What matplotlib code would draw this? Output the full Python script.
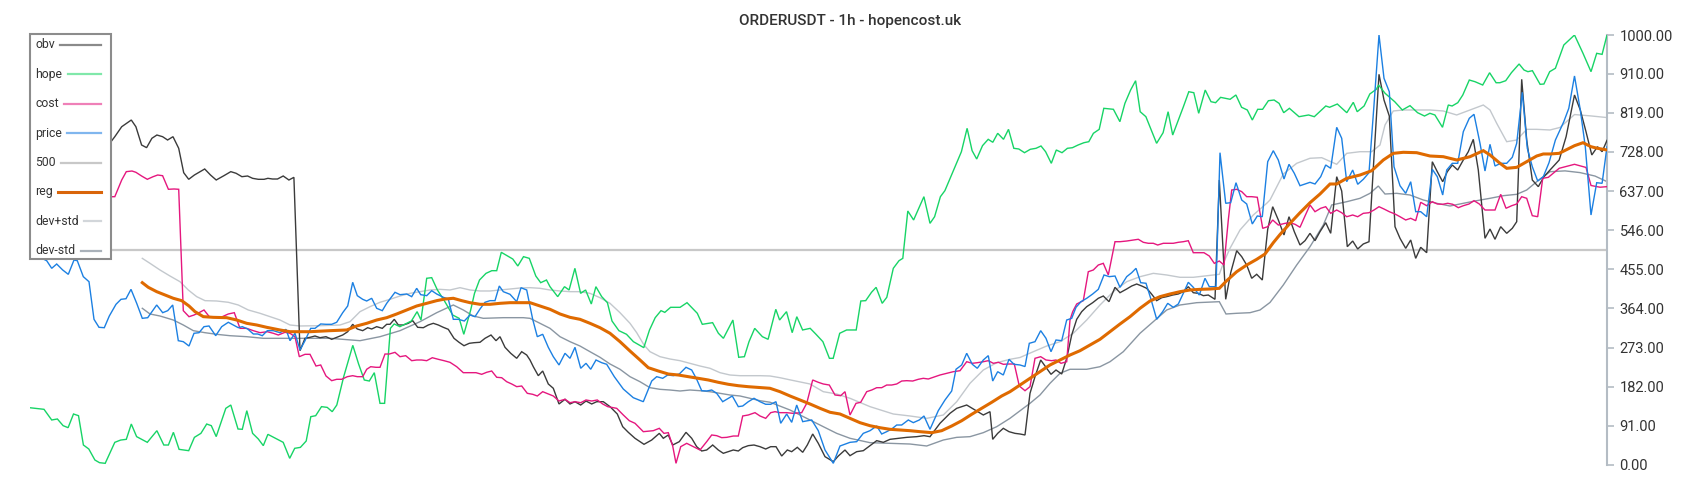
import matplotlib
matplotlib.use("Agg")
import matplotlib.pyplot as plt
from matplotlib.patches import Rectangle
from matplotlib.lines import Line2D

plt.rcParams['font.family'] = ['Roboto', 'DejaVu Sans']

TITLE = "ORDERUSDT - 1h - hopencost.uk"
Y_TICKS = [0, 91, 182, 273, 364, 455, 546, 637, 728, 819, 910, 1000]
LEVEL = 500
T_START, T_END = 30, 1607

# (time, value) pairs for every series
obv = [(30,745),(60,748),(90,750),(111,751.9),(114.8,763.5),(121.7,786.7),(131.3,802.3),(135.9,786.7),(141.6,744.2),(146.6,738),(151.9,759.8),(156.9,767.4),(162.6,763.5),(167.6,755.8),(173,763.5),(178.7,736.5),(183.7,679.8),(188.7,664.4),(194.4,674.4),(204.7,688.4),(210.5,674.4),(216.2,662.8),(223.9,672.8),(230.8,682.2),(236.1,678.4),(241.9,670.5),(247.6,672.1),(252.6,666.7),(258.3,664.4),(264.1,664.4),(267.9,666.7),(272.5,665.1),(277.5,665.1),(283.2,672.1),(288.9,662.8),(293.9,669),(300,265.8),(305,294.6),(310,296.9),(315,300),(320,296.1),(326,298.4),(331.7,292.3),(336.7,296.9),(342.7,302.3),(347.7,310),(352.7,327.2),(357.3,316.3),(362.7,312.4),(367.7,319.3),(371.7,316.3),(376.7,321.7),(382.3,317.8),(386.7,327.2),(390,327.2),(394.3,338.8),(398.3,325.6),(403.3,325.6),(408.3,329.5),(412.7,335.6),(417.7,320.2),(423.3,319.3),(428.3,325.6),(433.3,329.5),(438.3,325.6),(443.3,320.2),(448.3,315.5),(454,294.6),(459,285.4),(464,277.4),(469.3,283),(474,284.4),(480,285.4),(485,294.6),(491,302.3),(496,289.1),(500,298.4),(505,273.7),(510.7,259.8),(516.7,248.1),(521.7,263.5),(526.7,255.8),(530,244.2),(533.3,228.6),(538.3,207.7),(542.7,218.6),(548.3,188.4),(553.3,178.4),(559,141.9),(565,152.8),(570,141.9),(575,147.2),(580.7,139.5),(586,148.8),(591.7,141.9),(596.7,147.2),(603.3,147.2),(610,135.7),(617.3,118.6),(622.7,89.1),(628.3,76),(635,62.1),(644,48.1),(651.7,58.1),(659.3,73.6),(663.3,62.1),(668.3,69.8),(672.7,46.5),(679.3,54.3),(686,76),(691.7,62.1),(696.7,42.6),(701.7,32.6),(706.7,34.9),(712.7,46.5),(718.3,34.9),(723.3,27.2),(728.3,31),(733.3,34.9),(738.3,32.6),(742.7,40.3),(748.3,45),(754,46.5),(760,42.6),(765.7,37.2),(770.7,42.6),(776,42.6),(781.7,20.9),(787.3,34.9),(791.7,31),(797.3,41.1),(802.7,29.5),(807.3,46.5),(812.7,72.1),(818.3,50.4),(825,19.4),(833.3,7.8),(838.3,20.9),(845,34.9),(850,21.7),(856.7,31),(863.3,33.3),(870,45),(876.7,56.6),(883.3,52.7),(890,59.7),(898.3,62.1),(906.7,64.3),(916.7,65.9),(924,68.2),(930,65.9),(940,97),(950,120.2),(956.7,131.8),(966.7,139.5),(975,127.9),(983.3,116.3),(990,124),(992.7,59.7),(997.7,73.6),(1003.3,85.3),(1009,77.5),(1015,73.6),(1020,72.1),(1025,69.8),(1030,166.7),(1035,205.4),(1040.7,244.2),(1046,227.2),(1051,210.9),(1056,220.9),(1061.7,211.6),(1066.7,248.1),(1071.7,302.3),(1076.7,338.8),(1081.7,356.6),(1086.7,368.2),(1092.7,377.5),(1098.3,387.7),(1103.3,393),(1109,379.8),(1115,413.2),(1120,400.7),(1126.7,409.3),(1131.7,416.3),(1136.7,420.9),(1141.7,416.3),(1146.7,410.9),(1151,399.2),(1156.7,382.2),(1161.7,389.1),(1166.7,391.5),(1172.7,395.3),(1178.3,397.7),(1183.3,403.1),(1188.3,414.7),(1193.3,400.7),(1198.3,399.2),(1203.3,393.8),(1208.3,395.3),(1215,385.3),(1219.3,662.8),(1225.7,385.3),(1230.7,447.2),(1236.7,498.4),(1241.7,484.5),(1246.7,465.1),(1251.7,434.2),(1256.7,443.5),(1262.3,430.2),(1267.7,548.1),(1272.7,600.7),(1278.3,570),(1284,534.9),(1289,577.4),(1294.3,542.6),(1300,511.6),(1305,521.6),(1310,538.8),(1315,521.6),(1320,542.6),(1325.7,563.5),(1330.7,538.8),(1336.7,670.5),(1341.7,637.2),(1347.3,507.7),(1352.7,520.9),(1357.7,502.3),(1363.3,514),(1369,519.3),(1374,717),(1379,908.6),(1384,848.8),(1389.3,811.6),(1395,554.2),(1400,527.2),(1405.7,503.9),(1410.7,523.3),(1415.7,480.6),(1420.7,506.3),(1426.7,493.7),(1432.3,705.3),(1437.3,682.1),(1442.7,658.8),(1447.3,682.1),(1452.3,697.7),(1457.7,686),(1463.3,709.3),(1468.3,728.6),(1473.3,757.4),(1478.3,686),(1485,527.2),(1490,548.8),(1495,524.9),(1500.7,554.2),(1506.7,538.8),(1512.3,550.4),(1516.7,565.8),(1521.7,897),(1526.7,755.8),(1532.3,662.8),(1538.3,647.3),(1544,670.5),(1550,686),(1559.2,709.3),(1566.1,763.5),(1574.5,860.5),(1580.3,825.6),(1586,775.1),(1591.8,721),(1597.5,740.2),(1602.1,728.6),(1607,755)]

hope = [(30.6,133),(44,129.5),(51.7,104.7),(57.4,107),(63.1,91.5),(68.1,86.8),(73.5,118.6),(78.5,114.7),(83.4,46.5),(88.8,37.2),(94.9,11.6),(99.5,5.4),(105.2,3.9),(114.8,52.7),(120.6,58),(126.3,59.7),(131.3,95.3),(136.6,66),(147.3,52.7),(156.9,79.8),(163.8,46.5),(168.4,46.5),(173.4,76),(179.1,36.4),(188.7,33.3),(194.4,64.3),(200.9,73.6),(206.7,95.3),(211.3,91.5),(216.2,66),(225.8,131.8),(230.8,139.5),(238,83.7),(242.3,83),(246.8,126.4),(252.6,73.6),(258.3,60.5),(263.3,45),(267.9,71.3),(283.2,52.7),(289.7,15.5),(294.7,38.8),(300.4,41),(306.2,55.8),(310.8,112.4),(315.7,114.7),(321.5,135.7),(327.2,134),(332.2,124),(336.8,139.5),(343.7,205.4),(352.8,278.3),(358.6,234.9),(364.3,197.7),(369.3,195.3),(374.3,214.7),(380,143.4),(384.6,143.4),(390.4,317.8),(394.2,328),(399.9,321.7),(406.8,329.5),(411.4,334.9),(417.1,356.6),(421,337.2),(426.7,434.2),(431.7,435.7),(437.4,407),(443.9,383.7),(452.7,348.8),(459.2,341),(463.8,303.9),(470.7,360.5),(474.5,399.2),(479.5,430.2),(486,445.7),(491.8,451.9),(496.7,451.9),(501.3,494.6),(507.1,486.8),(512.8,479),(517.8,462.8),(523.5,484.5),(529.3,480.6),(535.8,439.5),(540.7,424),(546.5,430.2),(550,414.7),(557.7,391.5),(564.5,414.7),(569.1,407),(574.9,457.4),(580.6,399.2),(585.6,407),(591.3,374.4),(595.9,414.7),(601.7,391.5),(607.4,377.5),(612,334.9),(618.9,312.4),(626.5,304),(633.4,286.8),(643.8,272.9),(649.5,314),(655.2,342.6),(661,358.9),(664.8,355),(670.6,366.7),(680.1,366.7),(687,377.5),(697.3,352.8),(702.3,327.2),(712.6,331),(718.4,306.3),(723.4,294.6),(732.9,337.2),(738.7,250.5),(744.4,251.9),(749,286.8),(754.7,317.8),(762.4,298.4),(768.1,292.3),(775.8,362.1),(779.6,337.2),(786.5,356.6),(792.2,307.7),(796.8,344.9),(802.6,314),(810.2,317.8),(816,304),(822.9,286.8),(829.4,248.1),(833.2,248.1),(839.7,306.3),(846.6,314),(856.2,314),(860.8,381.4),(865.7,382.2),(871.5,401.6),(876.1,413.2),(882.2,376),(886.8,390),(893.3,457.4),(899,475.1),(902.8,480.6),(907.8,590.7),(913.6,569.8),(923.9,624),(930,562),(934.6,577.4),(940.4,624),(944.9,638),(961.4,728.6),(967.1,783),(972.1,731),(976.7,711.6),(982.5,742.6),(988.2,757.4),(992.8,750.5),(997.7,771.4),(1003.5,757.4),(1008.5,780.6),(1013.8,736.5),(1018.8,734.9),(1024.5,726.3),(1030.3,734.2),(1036,736.5),(1041,741.9),(1045.6,728.6),(1051.3,701.6),(1056.3,732.6),(1062,726.3),(1067.4,736.5),(1072.4,737.9),(1078.1,744.2),(1083.9,749.5),(1088.8,751.9),(1093.4,771.4),(1099.2,780.6),(1103.8,829.5),(1113.4,827.2),(1119.9,798.4),(1124.9,841),(1130.6,872),(1135.6,893.7),(1140.2,821.6),(1145.9,810),(1156.6,748.1),(1163.1,772.8),(1168.1,821.6),(1172.7,767.4),(1183.4,833.3),(1188.8,868.1),(1193.8,865.8),(1198.7,817.9),(1205.2,872),(1211,844.9),(1215.6,842.6),(1220.6,855),(1230.1,850.5),(1235.9,860.5),(1241.6,831.9),(1247.3,825.6),(1252.3,802.3),(1257.7,827.2),(1262.6,827.2),(1268.4,847.2),(1274.1,848.8),(1279.1,841),(1283.7,819.3),(1289.4,829.5),(1299,810),(1308.6,814),(1314.3,810),(1325.8,834.9),(1329.6,831.9),(1337.3,839.5),(1346.8,819.3),(1353.3,843.4),(1357.2,821.6),(1364.1,834.9),(1369.8,862.8),(1376.3,873.7),(1378.6,883.7),(1385.1,864.4),(1394.7,844.9),(1402.3,825.6),(1410,835.7),(1417.6,819.3),(1424.5,811.6),(1429.9,817.9),(1434.9,814),(1442.5,785.3),(1448.3,837.2),(1452.1,834.9),(1457.8,842.6),(1462.8,860.5),(1469.3,895.3),(1475,891.4),(1482.7,883.7),(1489.6,912.3),(1496.1,889),(1499.9,889),(1505.7,893.7),(1511.4,912.3),(1519.1,932.6),(1524,918.6),(1527.9,914.7),(1532.4,917),(1540.1,885.3),(1543.9,886),(1549.7,914.7),(1555.4,922.6),(1563.8,976.7),(1574.5,1000),(1583,957.4),(1591,914.7),(1596.7,957.4),(1602.1,955),(1607,1000)]

cost = [(30,620),(111,624),(114.8,624),(121.7,662.8),(126.3,682.2),(132,683.7),(135.9,680.7),(141.6,672.1),(147.3,664.4),(153.1,670.5),(157.7,674.4),(162.6,672.8),(168.4,641.2),(174.1,641.9),(178.7,641.2),(183.3,358.9),(189,344.9),(194,348.8),(199,354.2),(204,360.5),(209.3,344.9),(216.7,343.4),(222.3,344.9),(228.3,351.2),(234.3,354.2),(240,317.8),(246.7,317.8),(253.3,312.4),(260,307.7),(267.3,310),(273.3,306.3),(278.3,302.3),(285,308.6),(290,306.3),(295,298.4),(299.3,251.9),(305,257.4),(310,257.4),(316,230.2),(320.7,232.6),(326,207),(331.7,196.1),(336.7,199.3),(341.7,199.3),(347.3,205.4),(352.7,207.7),(357.3,205.4),(362.7,205.4),(366.7,222.6),(370.7,228.6),(376,227.2),(380,227.2),(385,258.1),(389.3,258.1),(395,262),(400,251.9),(405.7,254.2),(411.7,242.6),(416.7,244.2),(421.7,244.2),(426.7,242.6),(432.3,249.5),(438.3,245.8),(444,242.6),(450,238.8),(456.7,228.6),(463.3,214.7),(470,214.7),(476,214.7),(481.7,210.9),(486.7,215.6),(491.7,218.6),(496.7,204),(501.7,203),(506.7,193.7),(511.7,188.4),(516.7,182.2),(521.7,183.7),(527.3,166.7),(532.7,164.4),(537.3,160.5),(542.7,170.5),(548.3,165.1),(553.3,160.5),(559,148.8),(565,152.8),(570,144.9),(575,147.2),(580.7,144.9),(586,151.2),(591.7,148.8),(597.3,151.2),(602.7,141.9),(607.7,135.7),(616.7,131.8),(623.3,116.3),(629.3,103),(635,97),(643.3,77.5),(653.3,79.8),(659.3,85.3),(664,73.6),(668.3,75.2),(672.7,44.2),(676,3.9),(680.7,42.6),(686.7,50.4),(693.3,42.6),(700,34.9),(706.7,54.3),(711.7,69.8),(716.7,68.2),(721.7,63.6),(726.7,64.3),(733.3,67.4),(738.3,67.4),(742.7,114),(748.3,116.3),(755,121.7),(760,114),(765.7,108.5),(770.7,121.7),(775,124),(780,121.7),(786.7,121.7),(792.7,120.2),(801.7,121.7),(806.7,143.4),(812.7,197.7),(818.3,192.3),(823.3,188.4),(829.3,186),(835,162.8),(840.7,161.2),(845,170.5),(850,116.3),(856,143.4),(860.7,145.8),(866.7,170.5),(871.7,174.4),(876.7,179.8),(881.7,179.8),(886.7,186),(891.7,186),(896.7,188.4),(901.7,195.3),(906.7,196.1),(912.7,195.3),(918.3,199.3),(923.3,201.6),(928.3,200),(933.3,204),(940,209.3),(946.7,213.2),(953.3,217),(960,219.3),(966.7,240.2),(972.3,236.5),(977.3,237.9),(983.3,240.2),(988.3,242.6),(993.3,236.5),(998.3,238.8),(1003.3,234.2),(1009,234.9),(1014.3,234.9),(1019.3,183.7),(1025,172.8),(1030,182.2),(1035,248.1),(1040.7,251.9),(1046,244.2),(1051.7,242.6),(1056,244.2),(1061,236.5),(1066.7,240.2),(1070,337.2),(1072.7,356.6),(1076.7,374.4),(1083.3,382.2),(1088.3,449.5),(1093.3,453.5),(1098.3,465.1),(1103.3,469),(1108.3,441.9),(1115,519.3),(1120,519.3),(1126.7,520.9),(1133.3,523.3),(1138.3,524.9),(1143.3,517.9),(1148.3,515.6),(1153.3,515.6),(1157.7,511.6),(1163.3,515.6),(1168.3,515.6),(1173.3,515.6),(1178.3,517.9),(1183.3,519.3),(1188.3,521.6),(1193.3,493.7),(1198.3,493.7),(1204,493.7),(1209.3,486),(1214.3,469),(1219.3,474.4),(1224,465.1),(1228.3,569.8),(1231.7,639.5),(1236.7,641.2),(1241.7,635.7),(1246.7,624),(1251.7,624),(1257.3,622.6),(1262.7,550.4),(1267.7,554.2),(1272.7,569.8),(1278.3,558.1),(1285,562),(1290,563.5),(1295,559.8),(1300,552.8),(1305,579.1),(1310,604.7),(1315,589.1),(1320.7,597),(1325.7,600.7),(1330.7,585.3),(1336.7,593),(1341.7,586.7),(1346.7,577.4),(1352.7,581.4),(1357.7,577.4),(1363.3,585.3),(1369,586.7),(1374,593),(1379,600.7),(1384,595.3),(1389.3,589.1),(1395,583.7),(1400,577.4),(1405.7,569.8),(1410.7,573.7),(1415.7,568.2),(1420.7,610.9),(1426.7,603),(1432.3,612.3),(1437.3,607),(1442.7,606.3),(1447.7,608.6),(1452.7,606.3),(1458.3,598.4),(1463.3,603),(1469,607),(1474,614.7),(1479.3,607),(1485,593),(1490.7,593),(1495,593),(1500.7,629.5),(1506,597),(1511.7,603),(1516.7,607),(1521.7,624),(1526.7,620.2),(1532.3,579.8),(1537.7,577.4),(1542.7,666.7),(1548.3,669),(1559.2,690),(1574.5,699.3),(1586,692),(1591,650),(1600,646),(1607,647.3)]

price = [(30,495),(38,485),(46.7,475.1),(51.7,457.4),(56.7,467.4),(62.7,453.5),(68.3,443.4),(74,476.7),(77.3,475.1),(83.3,438),(89,426.3),(94,338.8),(99,320.2),(104.3,319.3),(109.3,346.5),(116,373.7),(121,385.3),(126,386.7),(131,408.5),(136.7,376),(142.3,341.1),(147.7,342.6),(156.7,372.1),(162.7,354.2),(167.7,358.9),(172.7,372.1),(178.3,289.1),(183.3,286.8),(189,276.7),(194,306.3),(199,307.7),(204,321.7),(209,323.3),(215.7,300.7),(221.7,321.7),(228.3,331.9),(233.3,325.6),(238.3,319.3),(242.3,321.7),(247.7,316.3),(253.3,304.7),(257.7,304.7),(262.3,300.7),(267.3,312.4),(273.3,312.4),(280,307.7),(286,315.5),(290,289.1),(295,306.3),(300,267.4),(305,289.1),(310.7,317.8),(315,317.8),(320.7,328),(326,327.2),(331.7,327.2),(336.7,331.9),(342.7,354.2),(347.7,369.8),(352.7,424.9),(357.3,393.8),(362.7,385.3),(366.7,381.4),(371.7,387.7),(376.7,364.4),(382.3,358.9),(386.7,376),(395,401.6),(400,396.1),(406.7,397.7),(411.7,391.5),(416.7,410.9),(420.7,396.1),(426.7,393.8),(431.7,405.4),(436.7,397.7),(443.3,390),(448.3,386),(453.3,338.8),(458.3,338.8),(464.3,334.9),(470,348.8),(475,344.9),(480,362.8),(485,378.4),(490,382.2),(495,382.2),(499.3,416.3),(503.3,403.1),(510,397),(516.7,379.8),(521,412.3),(526.7,407),(532.7,338.8),(537.3,298.4),(542.7,304),(548.3,273.7),(553.3,251.9),(559,232.6),(565,259.8),(570,248.1),(575,273.7),(580.7,224.9),(586,236.5),(590.7,222.6),(596,244.2),(601.7,237.9),(606.7,234.2),(614.3,205.4),(623.3,176.7),(633.3,156.5),(643.3,147.2),(651.7,195.3),(656.7,205.4),(662.7,201.6),(667.7,209.3),(673.3,207.7),(679.3,211.6),(686,227.2),(691.7,220.9),(696.7,199.3),(701.7,172.8),(706.7,172.1),(711.7,174.4),(716.7,166.7),(722.7,147.2),(727.3,153.5),(732.3,160.5),(738.3,135.7),(742.7,137.2),(748.3,147.2),(754,155.1),(760,147.2),(765.7,141.2),(770.7,141.2),(776,147.2),(780.7,97),(786.7,118.6),(791.7,99.2),(796.7,139.5),(802.7,100.8),(811.7,104.7),(818.3,79.8),(825,34.9),(833.3,3.9),(840,44.2),(850,52.7),(856.7,54.3),(863.3,73.6),(870,79.8),(876.7,90.7),(881.7,72.1),(886.7,77.5),(891.7,83.7),(896.7,93),(901.7,93),(908.3,104.7),(913.3,98.5),(919.3,104.7),(924,114),(930,83),(938.3,126.4),(945,151.2),(951.7,172.1),(956,222.6),(961.7,232.6),(966.7,259.8),(972.3,234.2),(977.3,224.9),(983.3,244.2),(988.3,254.3),(992.7,195.3),(997.7,217),(1003.3,209.3),(1009,245.8),(1014,234.2),(1020,232.6),(1025,229),(1029.3,283),(1035,286.8),(1040.7,312.4),(1046,294.6),(1051,263.5),(1056,290.7),(1061.7,289.1),(1066.7,337.2),(1071.7,341.1),(1076,366.7),(1081,379.8),(1086.7,387.7),(1092.7,397.7),(1098.3,408.5),(1104,441.9),(1109.3,438),(1115,439.5),(1120,413.2),(1126.7,438),(1131.7,447.2),(1136,457.4),(1140.7,424),(1146,422.6),(1151,385.3),(1156.7,338.8),(1162.7,356.6),(1167.7,376),(1173.3,366.7),(1178.3,374.4),(1183.3,399.2),(1188.3,424.9),(1193.3,413.2),(1199.3,395.3),(1205,434.2),(1209.3,414.7),(1216,414.7),(1220,726.3),(1225.7,608.6),(1230.7,610.1),(1236,656.5),(1241.7,616.3),(1246.7,607),(1252.3,560.5),(1257.3,579.1),(1262.3,577.4),(1267.7,705.3),(1273.3,731),(1278.3,709.3),(1284,665.1),(1289,699.3),(1294.3,678.4),(1300,649.5),(1305,653.5),(1310,657.4),(1315,653.5),(1320.7,670.5),(1325.7,697.7),(1330.7,690),(1336.7,785.3),(1341.7,759.8),(1346.7,658.8),(1352.7,686),(1357.7,652.8),(1363.3,664.4),(1369,679.8),(1374,837.2),(1379,1000),(1384,899.3),(1389.3,868.1),(1394,693.7),(1400,649.5),(1405.7,631.8),(1410.7,658.8),(1415.7,589.1),(1420.7,589.1),(1426.7,577.4),(1432.3,687.7),(1437.3,670.5),(1442.7,627.9),(1446.7,686),(1452.3,701.6),(1457.7,701.6),(1463.3,775.1),(1469.3,806.3),(1474,815.6),(1480,748.1),(1485,683.7),(1490,745.8),(1495,695.3),(1500.7,701.6),(1506.7,701.6),(1512.3,715.6),(1516.7,748.1),(1522.3,866.7),(1527.3,736.5),(1532.3,693.7),(1537.7,660.5),(1543.3,670.5),(1549,703),(1555.4,755.8),(1563.8,798.4),(1568.8,829.5),(1574.5,904.7),(1580.3,825.6),(1585.3,740.2),(1591,581.4),(1596.7,656.5),(1602.1,655.1),(1607,740.2)]

reg = [(142.3,424),(148.3,413.2),(156.7,403.1),(166.7,393.8),(173.3,387.7),(181.7,382.2),(189,369.8),(195,356.6),(203.3,345),(213.3,343.4),(226.7,342.6),(236.7,337.2),(246.7,329.5),(256.7,325.6),(266.7,320.2),(280,314),(290,310),(310,310),(330,312.4),(346.7,314),(356.7,323.3),(366.7,329.5),(376.7,337.2),(386.7,342.6),(396.7,351.2),(406.7,360.5),(416.7,369.8),(426.7,376),(436.7,382.2),(445,386),(453.3,387.7),(461.7,382.2),(470,377.5),(480,373.7),(490,373.7),(500,376),(510,377.5),(520,377.5),(530,377.5),(540,369.8),(550,362.1),(560,351.2),(570,343.4),(580,338.8),(590,329.5),(600,319.3),(610,306.3),(620,286.8),(630,265.1),(640,244.2),(648.3,226.3),(658.3,218.6),(668.3,211.6),(678.3,209.3),(688.3,205.4),(698.3,201.6),(708.3,197.7),(718.3,192.3),(728.3,187.7),(738.3,184.4),(748.3,182.1),(758.3,180.5),(770,178.4),(780,170.5),(790,160.5),(800,151.2),(810,141.9),(820,131.8),(830,122.6),(840,118.6),(850,108.6),(860,98.4),(870,91.4),(880,86.7),(890,83),(900,81.4),(910,79.8),(920,77.5),(931.7,75.2),(941.7,79.8),(951.7,90.7),(961.7,103),(971.7,117.9),(981.7,131.8),(991.7,145.8),(1001.7,160.5),(1010,170.5),(1020,186),(1030,201.6),(1040,217),(1050,232.6),(1060,244.2),(1070,255.8),(1080,265.8),(1090,279.1),(1100,292.3),(1110,310),(1120,327.9),(1130,344.9),(1140,364.4),(1150,381.4),(1160,391.5),(1170,397.7),(1180,403.1),(1190,407),(1200,408.5),(1210,409.3),(1219.3,410.9),(1226.7,428.6),(1236.7,449.5),(1246.7,465.1),(1256.7,478.3),(1265,490.7),(1273.3,517),(1280,536),(1290,562),(1300,586.7),(1310,610),(1320,630.2),(1330,653.5),(1336.7,653.5),(1346.7,666.7),(1360,674.4),(1371.7,684.4),(1383.3,709.3),(1393.3,724.8),(1403.3,727.2),(1416.7,726.3),(1430,718.6),(1443.3,717),(1456.7,709.3),(1470,717),(1483.3,731),(1490,721),(1500,701.6),(1506.7,690),(1516.7,692.2),(1526.7,705.3),(1536.7,718.6),(1543.3,723.3),(1550,723.3),(1559.2,724.8),(1574.5,742.6),(1583,749.5),(1591,740.2),(1597.5,736.5),(1607,732.6)]

dev_plus = [(142.3,480.6),(150,469),(160,453.5),(170,439.5),(180,426.3),(188.3,407),(196.7,391.5),(205,382.2),(216.7,381.4),(228.3,378.4),(238.3,372.1),(248.3,360.5),(260,352.8),(270,344.9),(280,337.2),(290,325.6),(300,323.3),(320,324),(340,325.6),(350,333.3),(360,356.6),(370,368.2),(380,378.4),(390,385.3),(400,393),(410,399.2),(420,403.1),(430,407),(440,408.5),(450,407),(460,412.4),(470,407),(480,404.7),(490,404.7),(500,407),(510,409.3),(520,411.6),(530,412.4),(540,410.9),(550,407),(560,404.7),(570,403.1),(580,403.1),(590,399.2),(600,389.1),(610,376),(620,354.2),(630,329.5),(636.7,307.7),(644,279.1),(650,263.5),(660,251.9),(670,246.5),(680,242.6),(690,236.5),(700,230.2),(710,224.9),(720,214.7),(730,209.3),(740,207.7),(750,207.7),(760,207.7),(770,207),(780,203),(790,198),(810,188.4),(823.3,170.5),(836.7,165.1),(850,155.1),(870,135.7),(893.3,118.6),(910,114),(926.7,108.5),(943.3,116.3),(956.7,147.2),(970,190),(983.3,220.9),(996.7,237.9),(1010,245.8),(1020,250),(1033.3,263.5),(1046.7,276.7),(1060,286.8),(1073.3,306.3),(1086.7,337.2),(1100,372.1),(1113.3,403.1),(1126.7,426.3),(1140,437.9),(1153.3,445.7),(1166.7,441.9),(1180,436.5),(1193.3,436.5),(1206.7,440.2),(1219.3,443.5),(1223.3,469),(1230,503.9),(1240,546.5),(1253.3,581.4),(1266.7,608.6),(1270,616.3),(1283.3,676.7),(1296.7,701.6),(1310,713.3),(1321.7,714.7),(1336.7,699.3),(1346.7,724.8),(1360,728.6),(1371.7,728.6),(1380,744.2),(1385,790.7),(1393.3,823.3),(1403.3,825.6),(1416.7,825.6),(1430,825.6),(1443.3,823.3),(1456.7,814),(1470,825.6),(1483.3,837.2),(1490,825.6),(1496.7,794.6),(1506.7,751.9),(1516.7,755.8),(1526.7,780.6),(1536.7,780.6),(1550,779.1),(1560,785),(1574.5,815),(1590,812),(1607,808)]

dev_minus = [(142.3,364.4),(150,351.2),(160,346.5),(173.3,337.2),(183.3,325.6),(193.3,312.4),(205,307.7),(216.7,303.9),(230,300.7),(246.7,298.4),(263.3,294.6),(280,294.6),(290,294.6),(310,294.6),(330,294.6),(360,289.1),(380,298.4),(400,312.4),(420,333.3),(436.7,354.2),(453.3,372.1),(463.3,360.5),(473.3,346.5),(483.3,341.1),(503.3,342.6),(523.3,342.6),(530,341.1),(540,329.5),(550,317.8),(560,298.4),(570,286.8),(580,276.7),(590,263.5),(600,250.5),(610,234.9),(620,222.6),(630,205.4),(640,193.7),(650,179.8),(660,176),(670,174.4),(680,172.1),(690,174.4),(700,172.8),(710,170.5),(720,166.7),(730,162.8),(740,160.5),(750,155.1),(760,149.5),(770,146),(790,127.9),(810,104.7),(823.3,89.1),(836.7,73.6),(850,62.1),(870,51.9),(890,50.4),(910,48.8),(926.7,44.2),(943.3,58.1),(956.7,64.3),(970,65.9),(983.3,75.2),(996.7,89.1),(1010,108.6),(1023.3,131.8),(1030,143.4),(1040,162.8),(1050,190),(1060,213.2),(1070,222.6),(1086.7,222.6),(1100,228.6),(1110,240.2),(1123.3,263.5),(1140,306.3),(1153.3,333.3),(1166.7,360.5),(1180,372.1),(1196.7,377.5),(1219.3,379.8),(1226,351.2),(1236.7,352.8),(1250,354.2),(1260,360.5),(1270,378),(1283.3,418.6),(1296.7,465.1),(1310,507.7),(1323.3,558.1),(1331.7,604.7),(1346.7,612.3),(1360,620.2),(1370,631.8),(1378.3,648.8),(1385,630.2),(1396.7,631.8),(1410,627.9),(1423.3,616.3),(1436.7,608.6),(1450,602.3),(1463.3,608.6),(1476.7,614.7),(1490,620.2),(1503.3,626.3),(1516.7,629.5),(1526.7,639.5),(1536.7,658.8),(1550,682.1),(1565,684),(1580,680),(1595,672),(1607,659)]

SERIES = [
    ("obv", obv, "#3b3b3b", 1.0, "#8a8a8a", 3),
    ("hope", hope, "#17d466", 1.0, "#80e8aa", 3),
    ("cost", cost, "#e5177e", 1.0, "#ef80b8", 3),
    ("price", price, "#1c80e2", 1.0, "#80b6ee", 4),
    ("500", None, "#c8c8c8", 1.6, "#c8c8c8", 1),
    ("reg", reg, "#df6a00", 2.2, "#d9650a", 5),
    ("dev+std", dev_plus, "#c3c8cd", 1.0, "#d2d6da", 2),
    ("dev-std", dev_minus, "#8a96a2", 1.0, "#a9b1b9", 2),
]

W, H = 1700, 500
L, R, TOP, BOT = 30, 1607, 35, 465
fig = plt.figure(figsize=(W / 100, H / 100), dpi=100)
ax = fig.add_axes([L / W, 1 - BOT / H, (R - L) / W, (BOT - TOP) / H])

for name, data, color, lw, _, z in SERIES:
    if data is None:
        ax.axhline(LEVEL, color=color, lw=lw, zorder=z)
    else:
        t, v = zip(*data)
        ax.plot(t, v, color=color, lw=lw, zorder=z, solid_joinstyle='miter')

ax.set_xlim(T_START, T_END)
ax.set_ylim(0, 1000)
ax.set_xticks([])
for s in ("top", "left", "bottom"):
    ax.spines[s].set_visible(False)
ax.spines["right"].set_color("#b4bcc4")
ax.spines["right"].set_linewidth(1.5)
ax.yaxis.tick_right()
ax.set_yticks(Y_TICKS)
ax.set_yticklabels([f"{v:.2f}" for v in Y_TICKS])
ax.tick_params(axis="y", colors="#b4bcc4", labelcolor="#333333",
               labelsize=10.5, length=5, width=1.2, pad=4)

fig.text(0.5, 1 - 20.5 / H, TITLE, ha="center", va="center",
         fontsize=11, fontweight="medium", color="#333333")

# legend box
bx0, bx1, by0, by1 = 29.9, 111, 34.3, 259
fig.add_artist(Rectangle((bx0 / W, 1 - by1 / H), (bx1 - bx0) / W, (by1 - by0) / H,
                         transform=fig.transFigure, facecolor="white",
                         edgecolor="#8c8c8c", lw=1.5, zorder=10))
renderer = fig.canvas.get_renderer()
for i, (name, _, _, _, lcol, _) in enumerate(SERIES):
    yc = 45 + i * 29.4
    txt = fig.text(35.5 / W, 1 - yc / H, name, ha="left", va="center",
                   fontsize=8.8, color="#333333", zorder=11)
    bb = txt.get_window_extent(renderer)
    x0 = bb.x1 + 5
    fig.add_artist(Line2D([x0 / W, 100.6 / W], [1 - yc / H, 1 - yc / H],
                          transform=fig.transFigure, color=lcol,
                          lw=2.2 if name == "reg" else 1.6, zorder=11))

fig.savefig("out.png", dpi=100)
